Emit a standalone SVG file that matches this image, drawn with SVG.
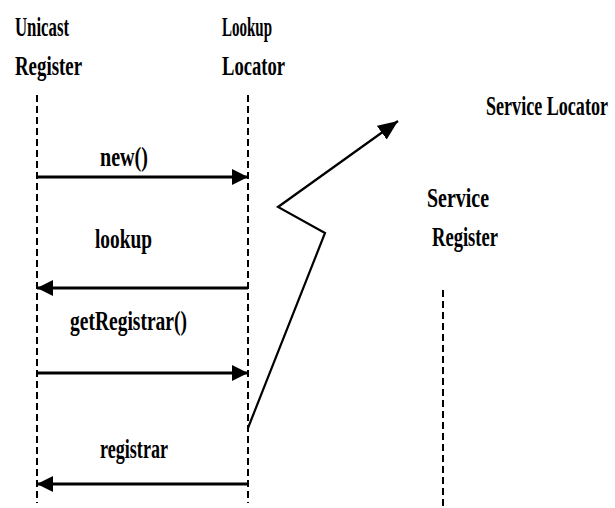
<svg xmlns="http://www.w3.org/2000/svg" width="615" height="508" viewBox="0 0 615 508">
  <style>
    text { font-family: "Liberation Serif", "Times New Roman", serif; font-weight: bold; font-size: 27px; fill: #000; }
    .life { stroke: #000; stroke-width: 2; stroke-dasharray: 7 4; fill: none; }
    .msg { stroke: #000; stroke-width: 3; fill: none; }
    .zig { stroke: #000; stroke-width: 2.2; fill: none; }
  </style>
  <defs>
    <marker id="head" viewBox="0 0 10 10" refX="10" refY="5" markerWidth="16" markerHeight="16" orient="auto" markerUnits="userSpaceOnUse">
      <path d="M0,0 L10,5 L0,10 z" fill="#000"/>
    </marker>
    <marker id="head2" viewBox="0 0 10 10" refX="10" refY="5" markerWidth="20" markerHeight="17" orient="auto" markerUnits="userSpaceOnUse" preserveAspectRatio="none">
      <path d="M0,0 L10,5 L0,10 z" fill="#000"/>
    </marker>
  </defs>

  <g id="unicast-register">
    <text x="15" y="36" textLength="54" lengthAdjust="spacingAndGlyphs">Unicast</text>
    <text x="15" y="75" textLength="67" lengthAdjust="spacingAndGlyphs">Register</text>
    <line class="life" x1="37" y1="95" x2="37" y2="503"/>
  </g>

  <g id="lookup-locator">
    <text x="222" y="36" textLength="50" lengthAdjust="spacingAndGlyphs">Lookup</text>
    <text x="222" y="75" textLength="63" lengthAdjust="spacingAndGlyphs">Locator</text>
    <line class="life" x1="248" y1="95" x2="248" y2="503"/>
  </g>

  <g id="service-locator">
    <!-- condensed horizontally so it fits the right margin -->
    <text transform="translate(486 115) scale(0.67 1)" x="0" y="0">Service Locator</text>
  </g>

  <g id="service-register">
    <text x="427" y="207" textLength="62" lengthAdjust="spacingAndGlyphs">Service</text>
    <text x="432" y="246" textLength="66" lengthAdjust="spacingAndGlyphs">Register</text>
    <line class="life" x1="443" y1="290" x2="443" y2="508"/>
  </g>

  <g id="connectors">
    <line class="msg" x1="37" y1="177" x2="248" y2="177" marker-end="url(#head)"/>
    <text x="100" y="166" textLength="48" lengthAdjust="spacingAndGlyphs">new()</text>

    <line class="msg" x1="248" y1="288" x2="37" y2="288" marker-end="url(#head)"/>
    <text x="95" y="248" textLength="57" lengthAdjust="spacingAndGlyphs">lookup</text>

    <line class="msg" x1="37" y1="373" x2="248" y2="373" marker-end="url(#head)"/>
    <text x="70" y="330" textLength="117" lengthAdjust="spacingAndGlyphs">getRegistrar()</text>

    <line class="msg" x1="248" y1="484" x2="37" y2="484" marker-end="url(#head)"/>
    <text x="100" y="458" textLength="68" lengthAdjust="spacingAndGlyphs">registrar</text>

    <polyline class="zig" points="248,428 325,233 278,207 398,121" marker-end="url(#head2)"/>
  </g>
</svg>
